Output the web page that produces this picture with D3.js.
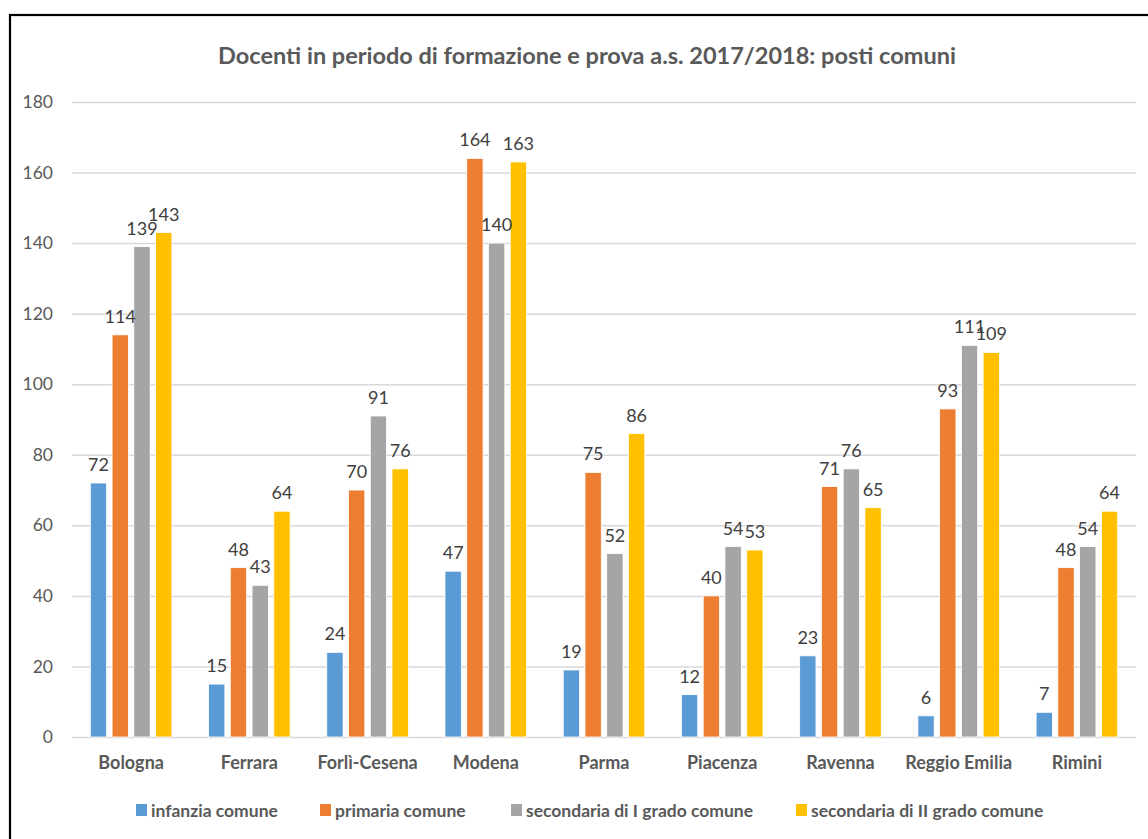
<!DOCTYPE html>
<html><head><meta charset="utf-8">
<script src="https://cdn.jsdelivr.net/npm/d3@7"></script>
<style>html,body{margin:0;padding:0;background:#fff;overflow:hidden}svg{display:block}</style>
</head><body>
<script>
const categories = ["Bologna","Ferrara","Forlì-Cesena","Modena","Parma","Piacenza","Ravenna","Reggio Emilia","Rimini"];
const seriesNames = ["infanzia comune","primaria comune","secondaria di I grado comune","secondaria di II grado comune"];
const infanzia = [72,15,24,47,19,12,23,6,7];
const primaria = [114,48,70,164,75,40,71,93,48];
const secondariaI = [139,43,91,140,52,54,76,111,54];
const secondariaII = [143,64,76,163,86,53,65,109,64];
const yTicks = [0,20,40,60,80,100,120,140,160,180];
const colors = ["#5B9BD5","#ED7D31","#A5A5A5","#FFC000"];
const seriesValues = [infanzia, primaria, secondariaI, secondariaII];

const W = 1148, H = 839;
const svg = d3.select("body").append("svg").attr("width", W).attr("height", H);
const font = "Lato, 'Open Sans', sans-serif";

svg.append("rect").attr("x",10).attr("y",15).attr("width",1160).attr("height",860)
  .attr("fill","#fff").attr("stroke","#000").attr("stroke-width",2.2);

const plotL = 72, plotR = 1136, yTop = 102, yBot = 737;
const x0 = d3.scaleBand().domain(categories).range([plotL, plotR]).paddingInner(0.31).paddingOuter(0.155);
const x1 = d3.scaleBand().domain(d3.range(4)).range([0, x0.bandwidth()]).paddingInner(0.25).paddingOuter(0);
const y = d3.scaleLinear().domain([0,180]).range([yBot, yTop]);

// grid + y axis
const yAxis = d3.axisLeft(y).tickValues(yTicks).tickSize(-(plotR-plotL)).tickPadding(19);
const gy = svg.append("g").attr("transform",`translate(${plotL},0)`).call(yAxis);
gy.select(".domain").remove();
gy.selectAll(".tick line").attr("stroke","#d9d9d9").attr("stroke-width",1.5);
gy.selectAll(".tick text").attr("fill","#595959").attr("font-family",font).attr("font-size",17.5);

// bars
const groups = svg.append("g").selectAll("g").data(categories).join("g")
  .attr("transform", c => `translate(${x0(c)},0)`);
groups.selectAll("rect").data((c,i) => seriesValues.map((s,k) => ({k, v: s[i]}))).join("rect")
  .attr("x", d => x1(d.k)).attr("width", x1.bandwidth())
  .attr("y", d => y(d.v)).attr("height", d => y(0) - y(d.v))
  .attr("fill", d => colors[d.k]).attr("stroke","#fff").attr("stroke-width",0.8);
groups.selectAll("text").data((c,i) => seriesValues.map((s,k) => ({k, v: s[i]}))).join("text")
  .attr("x", d => x1(d.k) + x1.bandwidth()/2).attr("y", d => y(d.v) - 12)
  .attr("text-anchor","middle").attr("fill","#404040").attr("font-family",font).attr("font-size",18)
  .text(d => d.v);

// x axis labels
const xAxis = d3.axisBottom(x0).tickSize(0).tickPadding(19);
const gx = svg.append("g").attr("transform",`translate(0,${yBot})`).call(xAxis);
gx.select(".domain").remove();
gx.selectAll(".tick text").attr("fill","#595959").attr("font-family",font).attr("font-size",18).attr("font-weight","bold");

// title
svg.append("text").attr("x", 587).attr("y", 64).attr("text-anchor","middle")
  .attr("fill","#595959").attr("font-family",font).attr("font-size",23.5).attr("font-weight","bold")
  .text("Docenti in periodo di formazione e prova a.s. 2017/2018: posti comuni");

// legend
const legX = [136, 320, 511, 796];
const leg = svg.append("g").selectAll("g").data(seriesNames).join("g")
  .attr("transform",(d,i)=>`translate(${legX[i]},804)`);
leg.append("rect").attr("width",11).attr("height",12).attr("fill",(d,i)=>colors[i]);
leg.append("text").attr("x",15).attr("y",12.5).attr("fill","#595959").attr("font-family",font)
  .attr("font-size",17.5).attr("font-weight","bold").text(d=>d);
</script>
</body></html>
